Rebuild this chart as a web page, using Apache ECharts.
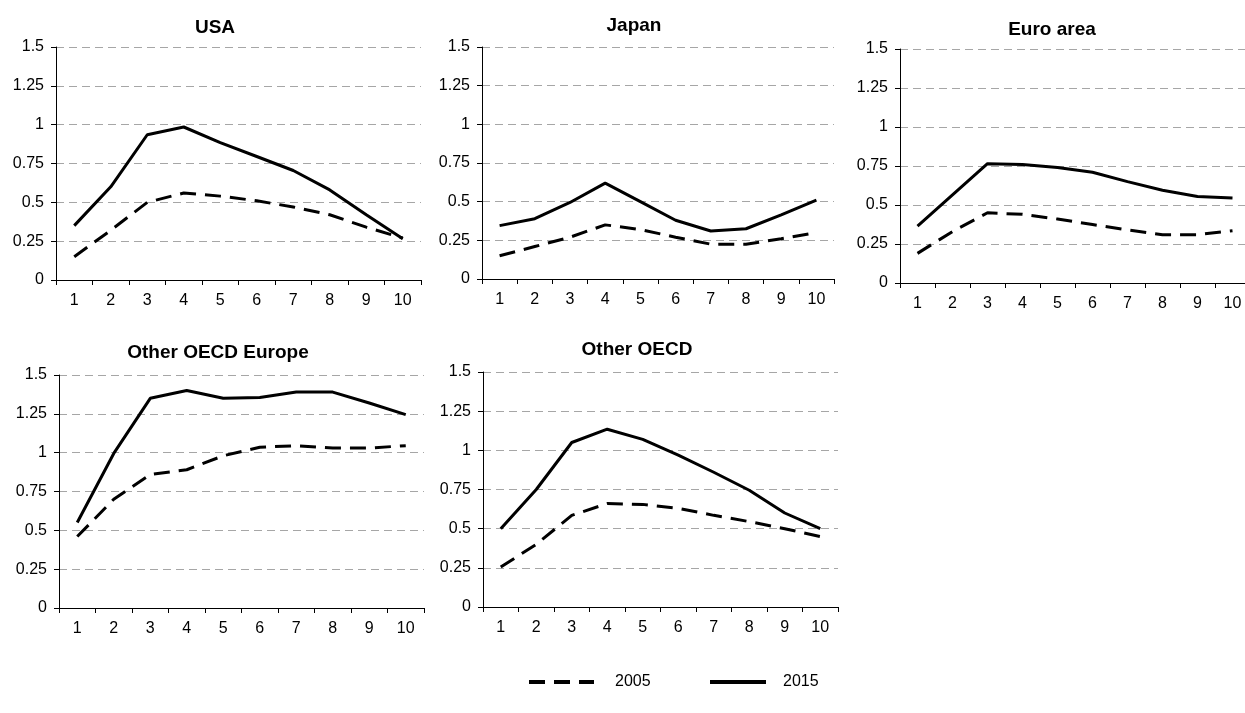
<!DOCTYPE html>
<html>
<head>
<meta charset="utf-8">
<script src="https://cdn.jsdelivr.net/npm/echarts@6/dist/echarts.min.js"></script>
<style>
  html, body { margin: 0; padding: 0; background: #fff; }
  #chart { width: 1245px; height: 713px; }
</style>
</head>
<body>
<div id="chart"></div>
<script>
// Categories (deciles) shared by every panel
const categories = ['1', '2', '3', '4', '5', '6', '7', '8', '9', '10'];

// Panel titles
const panelTitles = ['USA', 'Japan', 'Euro area', 'Other OECD Europe', 'Other OECD'];

// Series values per panel
const usa2005 = [0.15, 0.32, 0.50, 0.56, 0.54, 0.51, 0.47, 0.42, 0.34, 0.27];
const usa2015 = [0.35, 0.60, 0.935, 0.985, 0.885, 0.795, 0.705, 0.58, 0.42, 0.265];
const japan2005 = [0.15, 0.21, 0.27, 0.35, 0.32, 0.27, 0.225, 0.225, 0.26, 0.30];
const japan2015 = [0.345, 0.39, 0.495, 0.62, 0.50, 0.38, 0.31, 0.325, 0.415, 0.51];
const euro2005 = [0.19, 0.33, 0.45, 0.44, 0.41, 0.375, 0.34, 0.31, 0.31, 0.335];
const euro2015 = [0.365, 0.565, 0.765, 0.76, 0.74, 0.71, 0.65, 0.595, 0.555, 0.545];
const otherEurope2005 = [0.46, 0.70, 0.86, 0.89, 0.98, 1.035, 1.045, 1.03, 1.03, 1.045];
const otherEurope2015 = [0.55, 0.995, 1.35, 1.40, 1.35, 1.355, 1.39, 1.39, 1.32, 1.245];
const otherOecd2005 = [0.255, 0.40, 0.585, 0.66, 0.655, 0.63, 0.585, 0.545, 0.50, 0.45];
const otherOecd2015 = [0.50, 0.75, 1.05, 1.135, 1.07, 0.97, 0.86, 0.745, 0.60, 0.50];

// Y axis ticks
const yMin = 0, yMax = 1.5, yStep = 0.25;

const seriesNames = ['2005', '2015'];
const panelData = [
  [usa2005, usa2015],
  [japan2005, japan2015],
  [euro2005, euro2015],
  [otherEurope2005, otherEurope2015],
  [otherOecd2005, otherOecd2015]
];

// Plot rectangles (px) and title anchors for the five panels
const grids = [
  { left: 56,  top: 47,  width: 365, height: 233 },
  { left: 482, top: 47,  width: 352, height: 232 },
  { left: 900, top: 49,  width: 350, height: 234 },
  { left: 59,  top: 375, width: 365, height: 233 },
  { left: 483, top: 372, width: 355, height: 235 }
];
const titlePos = [
  { x: 215, y: 28 },
  { x: 634, y: 26 },
  { x: 1052, y: 30 },
  { x: 218, y: 353 },
  { x: 637, y: 350 }
];

const FONT = '"Liberation Sans", Arial, sans-serif';
const DASH = [16, 9];

// Legend entries show only the line sample, no marker
const legendCommon = {
  top: 669,
  itemHeight: 14,
  selectedMode: false,
  lineStyle: { width: 4, type: 'inherit' },
  itemStyle: { opacity: 0, color: 'rgba(0,0,0,0)', borderWidth: 0 }
};

const option = {
  backgroundColor: '#ffffff',
  animation: false,
  textStyle: { fontFamily: FONT, color: '#000' },
  title: panelTitles.map((t, i) => ({
    text: t,
    left: titlePos[i].x,
    top: titlePos[i].y,
    padding: 0,
    textAlign: 'center',
    textVerticalAlign: 'middle',
    textStyle: { fontFamily: FONT, fontSize: 19, fontWeight: 'bold', color: '#000' }
  })),
  legend: [
    Object.assign({}, legendCommon, {
      data: ['2005'],
      left: 522,
      itemWidth: 65,
      textStyle: { fontFamily: FONT, fontSize: 16, color: '#000', padding: [0, 0, 0, 16] }
    }),
    Object.assign({}, legendCommon, {
      data: ['2015'],
      left: 703,
      itemWidth: 56,
      textStyle: { fontFamily: FONT, fontSize: 16, color: '#000', padding: [0, 0, 0, 12] }
    })
  ],
  grid: grids.map(g => Object.assign({ outerBoundsMode: 'none', containLabel: false }, g)),
  xAxis: grids.map((g, i) => ({
    type: 'category',
    gridIndex: i,
    data: categories,
    boundaryGap: true,
    axisLine: { lineStyle: { color: '#000', width: 1 } },
    axisTick: { show: true, interval: 0, length: 5, inside: false, lineStyle: { color: '#000' } },
    axisLabel: { interval: 0, margin: 13, fontSize: 16, fontFamily: FONT, color: '#000' },
    splitLine: { show: false }
  })),
  yAxis: grids.map((g, i) => ({
    type: 'value',
    gridIndex: i,
    min: yMin, max: yMax, interval: yStep,
    axisLine: { show: true, lineStyle: { color: '#000', width: 1 } },
    axisTick: { show: true, length: 5, lineStyle: { color: '#000' } },
    axisLabel: { margin: 12, fontSize: 16, fontFamily: FONT, color: '#000' },
    splitLine: { show: true, lineStyle: { color: '#a6a6a6', width: 1, type: [8, 5] } }
  })),
  series: []
};

panelData.forEach((pair, i) => {
  pair.forEach((vals, k) => {
    option.series.push({
      name: seriesNames[k],
      type: 'line',
      xAxisIndex: i,
      yAxisIndex: i,
      data: vals,
      symbol: 'none',
      silent: true,
      lineStyle: { color: '#000', width: 3, type: k === 0 ? DASH : 'solid', cap: 'butt' },
      itemStyle: { color: '#000' }
    });
  });
});

const chart = echarts.init(document.getElementById('chart'), null, { renderer: 'canvas' });
chart.setOption(option);
</script>
</body>
</html>
